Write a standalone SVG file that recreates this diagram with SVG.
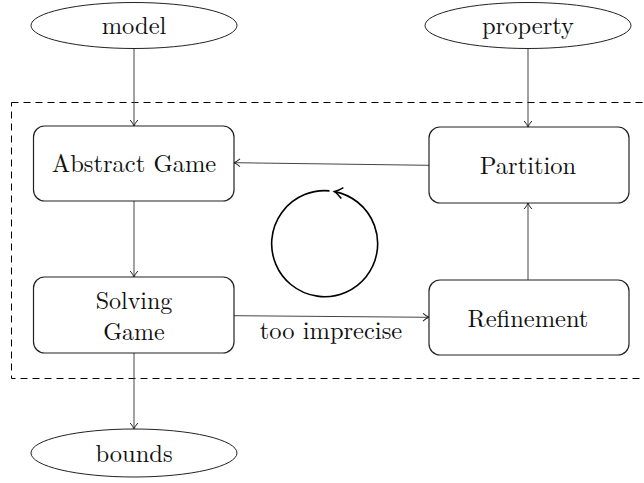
<svg xmlns="http://www.w3.org/2000/svg" width="644" height="483" viewBox="0 0 644 483">
<style>
text{font-family:"Latin Modern Roman","CMU Serif","Liberation Serif","DejaVu Serif",serif;font-size:24.5px;fill:#111;text-anchor:middle}
.box{fill:#fff;stroke:#222;stroke-width:1.2}
.ell{fill:#fff;stroke:#222;stroke-width:1}
.con{fill:none;stroke:#444;stroke-width:1;marker-end:url(#ah)}
</style>
<defs>
<marker id="ah" viewBox="-8 -5 10 10" refX="0" refY="0" markerWidth="10" markerHeight="10" markerUnits="userSpaceOnUse" orient="auto">
<path d="M-6,-3.8 Q-2.5,-0.8 0,0 Q-2.5,0.8 -6,3.8" fill="none" stroke="#222" stroke-width="1"/>
</marker>
<marker id="ah2" viewBox="-10 -7 13 14" refX="0" refY="0" markerWidth="13" markerHeight="14" markerUnits="userSpaceOnUse" orient="auto">
<path d="M-8,-5.5 Q-3,-1.2 0,0 Q-3,1.2 -8,5.5" fill="none" stroke="#000" stroke-width="1.6"/>
</marker>
</defs>
<rect x="11.5" y="102.5" width="650" height="276" fill="none" stroke="#000" stroke-width="1" stroke-dasharray="7,5"/>
<g id="connectors">
<line class="con" x1="134" y1="48" x2="134" y2="126"/>
<line class="con" x1="528" y1="48" x2="528" y2="127"/>
<line class="con" x1="429" y1="165.3" x2="234" y2="162.7"/>
<line class="con" x1="134" y1="201" x2="134" y2="277"/>
<line class="con" x1="528" y1="280" x2="528" y2="203"/>
<line class="con" x1="234" y1="315.7" x2="429" y2="317.3"/>
<line class="con" x1="134" y1="353" x2="134" y2="429"/>
<text x="331" y="339">too imprecise</text>
</g>
<g id="cycle">
<path d="M329.5,190.9 A53,53 0 1 0 334.5,191.6" fill="none" stroke="#000" stroke-width="1.6" marker-end="url(#ah2)"/>
</g>
<g id="model"><ellipse class="ell" cx="134" cy="25.5" rx="103" ry="23"/><text x="134" y="34">model</text></g>
<g id="property"><ellipse class="ell" cx="528" cy="25.5" rx="103" ry="23"/><text x="528" y="34">property</text></g>
<g id="abstract"><rect class="box" x="33.5" y="126" width="200.5" height="75" rx="11"/><text x="134" y="172.3">Abstract Game</text></g>
<g id="partition"><rect class="box" x="429" y="127" width="200" height="76" rx="11"/><text x="528" y="174.3">Partition</text></g>
<g id="solving"><rect class="box" x="33.5" y="277" width="200.5" height="76" rx="11"/><text x="134" y="308.5" style="font-size:24px">Solving</text><text x="134" y="339.5" style="font-size:24px">Game</text></g>
<g id="refinement"><rect class="box" x="429" y="280" width="200" height="75" rx="11"/><text x="528" y="326.7">Refinement</text></g>
<g id="bounds"><ellipse class="ell" cx="134" cy="453" rx="103" ry="24"/><text x="134" y="461.7">bounds</text></g>
</svg>
